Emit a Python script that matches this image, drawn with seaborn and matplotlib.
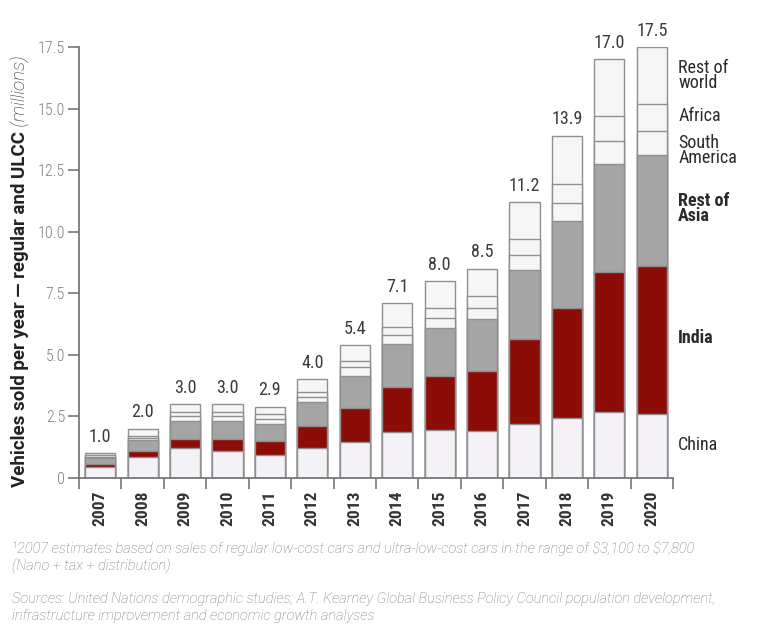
import numpy as np
import pandas as pd
import matplotlib
matplotlib.use("Agg")
import matplotlib.pyplot as plt
import seaborn as sns

# Annual sales of regular and ultra-low-cost cars, millions of vehicles
years = ["2007", "2008", "2009", "2010", "2011", "2012", "2013",
         "2014", "2015", "2016", "2017", "2018", "2019", "2020"]
china = [0.45, 0.85, 1.2, 1.1, 0.95, 1.2, 1.45, 1.85, 1.95, 1.9, 2.2, 2.45, 2.7, 2.6]
india = [0.1, 0.25, 0.4, 0.5, 0.55, 0.9, 1.4, 1.85, 2.2, 2.45, 3.45, 4.45, 5.65, 6.0]
rest_of_asia = [0.25, 0.45, 0.7, 0.7, 0.7, 1.0, 1.3, 1.75, 1.95, 2.1, 2.8, 3.55, 4.4, 4.5]
south_america = [0.06, 0.09, 0.2, 0.2, 0.2, 0.2, 0.35, 0.35, 0.4, 0.45, 0.6, 0.7, 0.95, 1.0]
africa = [0.06, 0.08, 0.2, 0.2, 0.2, 0.2, 0.25, 0.35, 0.4, 0.5, 0.65, 0.8, 1.0, 1.1]
rest_of_world = [0.08, 0.28, 0.3, 0.3, 0.3, 0.5, 0.65, 0.95, 1.1, 1.1, 1.5, 1.95, 2.3, 2.3]

regions = ["China", "India", "Rest of\nAsia", "South\nAmerica", "Africa", "Rest of\nworld"]
series = [china, india, rest_of_asia, south_america, africa, rest_of_world]
colors = ["#f4f2f6", "#8c0d08", "#a5a5a5", "#f6f6f6", "#f6f6f6", "#f6f6f6"]
label_y = [1.35, 5.7, 10.95, 13.3, 14.7, 16.35]
label_bold = [False, True, True, False, False, False]

df = pd.DataFrame({"year": years})
for name, vals in zip(regions, series):
    df[name] = vals
cum = df[regions].cumsum(axis=1)
cum["year"] = years

sns.set_theme(style="white")
plt.rcParams["font.family"] = ["Roboto Condensed", "DejaVu Sans"]
wide = ["Roboto", "DejaVu Sans"]

fig = plt.figure(figsize=(7.66, 6.27), dpi=100)
fig.patch.set_facecolor("white")
ax = fig.add_axes([79 / 766, 1 - 478 / 627, 594 / 766, 431 / 627])
ax.set_facecolor("white")

# stacked bars: draw cumulative heights from the top layer down
for name, col in reversed(list(zip(regions, colors))):
    sns.barplot(data=cum, x="year", y=name, color=col, width=0.71,
                edgecolor="#8f8f8f", linewidth=1.0, saturation=1, ax=ax)

totals = cum[regions[-1]].values
for i, t in enumerate(totals):
    ax.text(i, t + 0.3, f"{t:.1f}", ha="center", va="bottom",
            fontsize=13, color="#3a3a3a")

for name, y, bold in zip(regions, label_y, label_bold):
    ax.text(13.62, y, name, ha="left", va="center", fontsize=13,
            color="#2a2a2a", fontweight="bold" if bold else "normal",
            linespacing=0.8, clip_on=False)

ax.set_xlim(-0.5, 13.5)
ax.set_ylim(0, 17.5)
ax.set_xlabel("")
ax.set_ylabel("")

yt = [0, 2.5, 5.0, 7.5, 10.0, 12.5, 15.0, 17.5]
ax.set_yticks(yt)
ax.set_yticklabels(["0"] + [f"{v:.1f}" for v in yt[1:]], color="#808080",
                   fontsize=11.5, fontweight="light")
ax.tick_params(axis="y", direction="out", length=8, width=1.2, color="#777777", pad=2, left=True)

ax.set_xticks(np.arange(len(years)))
ax.set_xticklabels(years, rotation=90, fontsize=12.5, color="#333333", fontweight="bold")
ax.tick_params(axis="x", which="major", length=0, pad=9)
ax.set_xticks(np.arange(-0.5, len(years)), minor=True)
ax.tick_params(axis="x", which="minor", direction="out", length=8, width=1.2,
               color="#777777", bottom=True)

for side in ["top", "right"]:
    ax.spines[side].set_visible(False)
for side in ["left", "bottom"]:
    ax.spines[side].set_color("#777777")
    ax.spines[side].set_linewidth(1.3)

lab = fig.text(20 / 766, 1 - 487 / 627, "Vehicles sold per year \u2014 regular and ULCC",
               rotation=90, ha="center", va="bottom", fontsize=13.5, family=wide,
               fontweight="bold", color="#222222")
ax.annotate(" (millions)", xy=(0.5, 1.0), xycoords=lab, rotation=90,
            ha="center", va="bottom", fontsize=13.5, fontstyle="italic", family=wide,
            fontweight="light", color="#222222", annotation_clip=False)

note_kw = dict(fontsize=10.5, fontstyle="italic", fontweight="light", color="#7a7a7a",
               ha="left", va="center", family=wide)
fig.text(12 / 766, 1 - 549 / 627,
         "\u00b92007 estimates based on sales of regular low-cost cars and ultra-low-cost cars "
         "in the range of \\$3,100 to \\$7,800", **note_kw)
fig.text(12 / 766, 1 - 566 / 627, "(Nano + tax + distribution)", **note_kw)
fig.text(12 / 766, 1 - 599 / 627,
         "Sources: United Nations demographic studies; A.T. Kearney Global Business Policy "
         "Council population development,", **note_kw)
fig.text(12 / 766, 1 - 616 / 627,
         "infrastructure improvement and economic growth analyses", **note_kw)

fig.savefig("out.png", dpi=100, facecolor="white")
